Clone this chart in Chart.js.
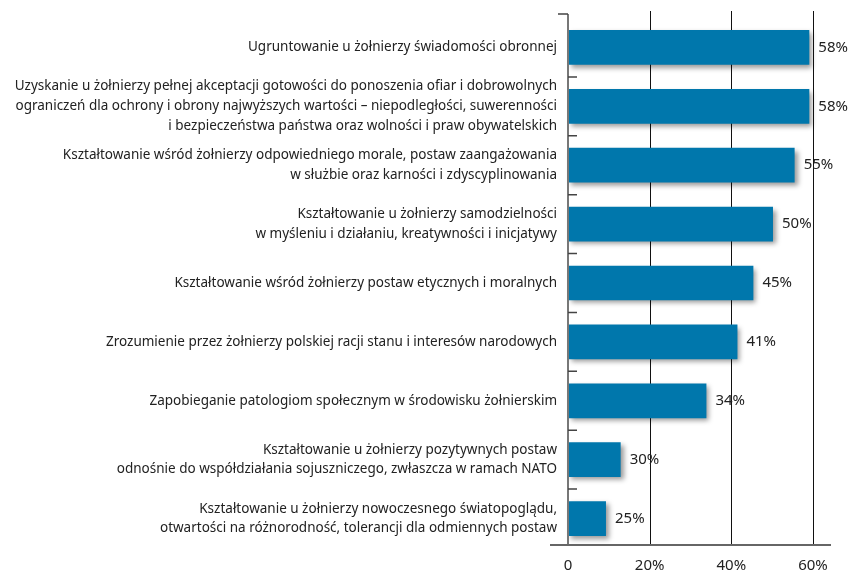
<!DOCTYPE html>
<html lang="pl">
<head>
    <meta charset="UTF-8">
    <script src="https://cdn.jsdelivr.net/npm/chart.js@4.4.0/dist/chart.umd.min.js"></script>
    <title>Cele wychowania obywatelskiego</title>
    <style>
        body { margin: 0; background: #fff; }
        .chart-box { width: 848px; height: 570px; }
    </style>
</head>
<body>
    <div class="chart-box"><canvas id="goalsChart"></canvas></div>
    <script>
        const categories = [
            ["Ugruntowanie u żołnierzy świadomości obronnej"],
            ["Uzyskanie u żołnierzy pełnej akceptacji gotowości do ponoszenia ofiar i dobrowolnych",
             "ograniczeń dla ochrony i obrony najwyższych wartości – niepodległości, suwerenności",
             "i bezpieczeństwa państwa oraz wolności i praw obywatelskich"],
            ["Kształtowanie wśród żołnierzy odpowiedniego morale, postaw zaangażowania",
             "w służbie oraz karności i zdyscyplinowania"],
            ["Kształtowanie u żołnierzy samodzielności",
             "w myśleniu i działaniu, kreatywności i inicjatywy"],
            ["Kształtowanie wśród żołnierzy postaw etycznych i moralnych"],
            ["Zrozumienie przez żołnierzy polskiej racji stanu i interesów narodowych"],
            ["Zapobieganie patologiom społecznym w środowisku żołnierskim"],
            ["Kształtowanie u żołnierzy pozytywnych postaw",
             "odnośnie do współdziałania sojuszniczego, zwłaszcza w ramach NATO"],
            ["Kształtowanie u żołnierzy nowoczesnego światopoglądu,",
             "otwartości na różnorodność, tolerancji dla odmiennych postaw"]
        ];
        // bar lengths as drawn in the original (the last two bars are drawn shorter than their labels)
        const barLengths = [59.1, 59.1, 55.5, 50.2, 45.4, 41.5, 33.9, 12.9, 9.3];
        const valueLabels = ["58%", "58%", "55%", "50%", "45%", "41%", "34%", "30%", "25%"];
        const xTickValues = [0, 20, 40, 60];
        const xTickLabels = ["0", "20%", "40%", "60%"];

        Chart.defaults.font.family = "'Noto Sans', sans-serif";
        Chart.defaults.color = "#222";

        // grid, axis lines, category ticks, bar shadow and value labels
        const decorations = {
            id: "decorations",
            beforeDatasetsDraw(chart) {
                const { ctx, chartArea: a, scales: { x } } = chart;
                ctx.save();
                ctx.strokeStyle = "#111";
                ctx.lineWidth = 1;
                xTickValues.forEach(v => {
                    if (v === 0) return;
                    const px = Math.round(x.getPixelForValue(v)) + 0.5;
                    ctx.beginPath();
                    ctx.moveTo(px, a.top - 7);
                    ctx.lineTo(px, a.bottom - 3);
                    ctx.stroke();
                });
                ctx.restore();

                ctx.save();
                ctx.shadowColor = "rgba(0,0,0,0.4)";
                ctx.shadowBlur = 5;
                ctx.shadowOffsetX = 3;
                ctx.shadowOffsetY = 3;
            },
            afterDatasetsDraw(chart) {
                const { ctx, chartArea: a, scales: { x, y } } = chart;
                ctx.restore();

                const x0 = x.getPixelForValue(0);
                const axisY = a.bottom - 3;
                ctx.save();
                // y axis
                ctx.strokeStyle = "#777";
                ctx.lineWidth = 2;
                ctx.beginPath();
                ctx.moveTo(x0, a.top - 4);
                ctx.lineTo(x0, axisY);
                ctx.stroke();
                // category ticks
                ctx.strokeStyle = "#444";
                ctx.lineWidth = 1.5;
                ctx.beginPath();
                ctx.moveTo(x0 - 10, a.top - 4);
                ctx.lineTo(x0, a.top - 4);
                for (let i = 1; i < categories.length; i++) {
                    const by = (y.getPixelForValue(i - 1) + y.getPixelForValue(i)) / 2;
                    ctx.moveTo(x0, by);
                    ctx.lineTo(x0 + 9, by);
                }
                ctx.stroke();
                // x axis
                ctx.strokeStyle = "#666";
                ctx.lineWidth = 2;
                ctx.beginPath();
                ctx.moveTo(x0 - 18, axisY);
                ctx.lineTo(x.getPixelForValue(60) + 18, axisY);
                ctx.stroke();

                // value labels
                ctx.fillStyle = "#222";
                ctx.font = "15px 'Noto Sans', sans-serif";
                ctx.textAlign = "left";
                ctx.textBaseline = "middle";
                chart.getDatasetMeta(0).data.forEach((bar, i) => {
                    ctx.fillText(valueLabels[i], bar.x + 9, bar.y);
                });
                ctx.restore();
            }
        };

        new Chart("goalsChart", {
            type: "bar",
            data: {
                labels: categories,
                datasets: [{
                    data: barLengths,
                    backgroundColor: "#0077ac",
                    borderWidth: 0,
                    barPercentage: 0.59,
                    categoryPercentage: 1,
                    clip: false
                }]
            },
            options: {
                indexAxis: "y",
                responsive: true,
                maintainAspectRatio: false,
                animation: false,
                layout: { padding: { top: 18, right: 35, left: 0, bottom: 0 } },
                plugins: {
                    legend: { display: false },
                    tooltip: { enabled: false }
                },
                scales: {
                    x: {
                        min: 0,
                        max: 60,
                        grid: { display: false, drawTicks: false },
                        border: { display: false },
                        afterFit: s => { s.height = 22; s.paddingLeft = 0; s.paddingRight = 0; },
                        afterBuildTicks: s => { s.ticks = xTickValues.map(v => ({ value: v })); },
                        ticks: {
                            padding: 9,
                            color: "#222",
                            font: { size: 15 },
                            callback: (v) => xTickLabels[xTickValues.indexOf(v)]
                        }
                    },
                    y: {
                        grid: { display: false, drawTicks: false },
                        border: { display: false },
                        afterFit: s => { s.width = 568; s.paddingTop = 0; s.paddingBottom = 0; },
                        ticks: {
                            padding: 11,
                            color: "#222",
                            font: { size: 13.5, lineHeight: 1.46 },
                            autoSkip: false
                        }
                    }
                }
            },
            plugins: [decorations]
        });
    </script>
</body>
</html>
